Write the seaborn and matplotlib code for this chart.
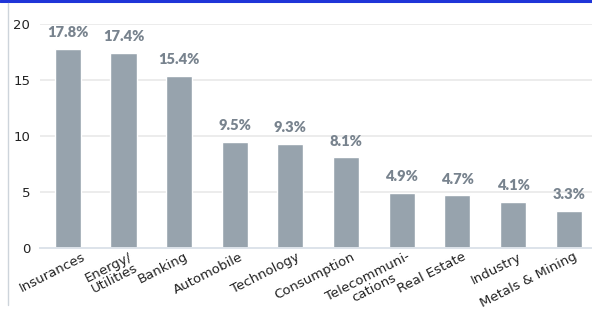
import matplotlib
matplotlib.use("Agg")
import matplotlib.pyplot as plt
import matplotlib.transforms as mtransforms
from matplotlib.lines import Line2D
import pandas as pd
import seaborn as sns

sectors = ["Insurances", "Energy/\nUtilities", "Banking", "Automobile", "Technology",
           "Consumption", "Telecommuni-\ncations", "Real Estate", "Industry", "Metals & Mining"]
shares = [17.8, 17.4, 15.4, 9.5, 9.3, 8.1, 4.9, 4.7, 4.1, 3.3]
y_ticks = [0, 5, 10, 15, 20]

df = pd.DataFrame({"sector": sectors, "share": shares})

sns.set_theme(style="white")
plt.rcParams["font.family"] = ["DejaVu Sans"]

fig = plt.figure(figsize=(5.92, 3.14), dpi=100)
ax = fig.add_axes([40 / 592, 66 / 314, 552 / 592, 224 / 314])

sns.barplot(data=df, x="sector", y="share", color="#97a3ad", width=0.47,
            saturation=1, ax=ax)

ax.set_xlim(-0.5, 9.42)
ax.set_ylim(0, 20)
ax.set_yticks(y_ticks)
ax.yaxis.grid(True, color="#ececec", linewidth=1.4)
ax.set_axisbelow(True)
ax.set_xlabel("")
ax.set_ylabel("")
for s in ["top", "right", "left"]:
    ax.spines[s].set_visible(False)
ax.spines["bottom"].set_color("#dde3ea")
ax.spines["bottom"].set_linewidth(1.4)
ax.tick_params(axis="y", length=0, pad=7, labelsize=9.5, labelcolor="#222222")
ax.tick_params(axis="x", length=0, pad=1.5, labelsize=9.5, labelcolor="#222222")

# rotated labels end just right of each bar; the first one is pushed in from the edge
for i, lab in enumerate(ax.get_xticklabels()):
    shift = 14 if i == 0 else 5
    offset = mtransforms.ScaledTranslation(shift / 100, 0, fig.dpi_scale_trans)
    lab.set_rotation(27)
    lab.set_ha("right")
    lab.set_va("top")
    lab.set_rotation_mode("anchor")
    lab.set_multialignment("center")
    lab.set_linespacing(0.95)
    lab.set_transform(lab.get_transform() + offset)

ax.bar_label(ax.containers[0], labels=[f"{v}%" for v in shares], padding=7,
             fontsize=10.5, fontweight="heavy", color="#78838e", family="Lato")

fig.add_artist(Line2D([0, 1], [1 - 1 / 314, 1 - 1 / 314], color="#1f35d8", lw=2.2,
                      transform=fig.transFigure))
fig.add_artist(Line2D([8 / 592, 8 / 592], [0.03, 0.99], color="#cdd4db", lw=1,
                      transform=fig.transFigure))

fig.savefig("out.png", dpi=100)
